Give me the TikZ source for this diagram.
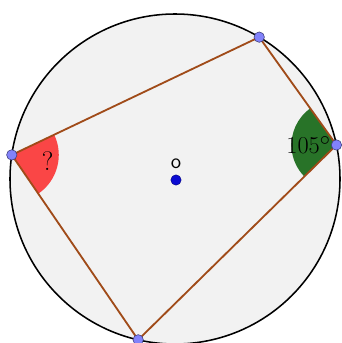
\documentclass[tikz,border=0pt]{standalone}
\usepackage{amsmath}
\usepackage{tikz}
\usetikzlibrary{positioning,calc}
\definecolor{discbg}{RGB}{242,242,242}
\definecolor{chord}{RGB}{160,75,25}
\definecolor{ptfill}{RGB}{130,130,250}
\definecolor{ptdraw}{RGB}{60,60,120}
\definecolor{ctr}{RGB}{10,10,210}
\definecolor{askc}{RGB}{250,70,70}
\definecolor{givc}{RGB}{40,115,40}
\tikzset{
  rim/.style={draw=black,line width=1.1pt,fill=discbg},
  side/.style={draw=chord,line width=1.3pt},
  vtx/.style={circle,draw=ptdraw,fill=ptfill,line width=0.4pt,minimum size=2.6mm,inner sep=0pt},
  mid/.style={circle,fill=ctr,draw=ctr!60!black,line width=0.3pt,minimum size=2.6mm,inner sep=0pt},
  ang/.style={font=\fontsize{19}{21}\selectfont},
}
\begin{document}
\begin{tikzpicture}
  \useasboundingbox (0,0) rectangle (8.55,-8.575);
  \coordinate (O) at (4.375,-4.475);
  \draw[rim] (O) circle (4.125);
  \coordinate (a) at ($(O)+(59.3:4.125)$);
  \coordinate (b) at ($(O)+(171.6:4.125)$);
  \coordinate (c) at ($(O)+(257.1:4.125)$);
  \coordinate (d) at ($(O)+(11.9:4.125)$);
  % angle sectors
  \fill[askc] (b) -- ++(-55.6:1.175) arc (-55.6:25.5:1.175) -- cycle;
  \fill[givc] (d) -- ++(125.6:1.125) arc (125.6:224.5:1.125) -- cycle;
  \draw[side] (a) -- (b) -- (c) -- (d) -- cycle;
  \node[ang] at ($(b)+(0.9,-0.15)$) {?};
  \node[ang,anchor=east] (deg) at ($(d)+(-0.02,0)$) {$105^\circ$};
  % points
  \node[vtx] (A) at (a) {};
  \node[vtx] (B) at (b) {};
  \node[vtx] (C) at (c) {};
  \node[vtx] (D) at (d) {};
  \node[mid] (Oc) at ($(O)+(0.025,-0.025)$) {};
  \node[font=\sffamily\fontsize{15}{16}\selectfont,above=0.2mm of Oc] (lbl) {o};
\end{tikzpicture}
\end{document}
